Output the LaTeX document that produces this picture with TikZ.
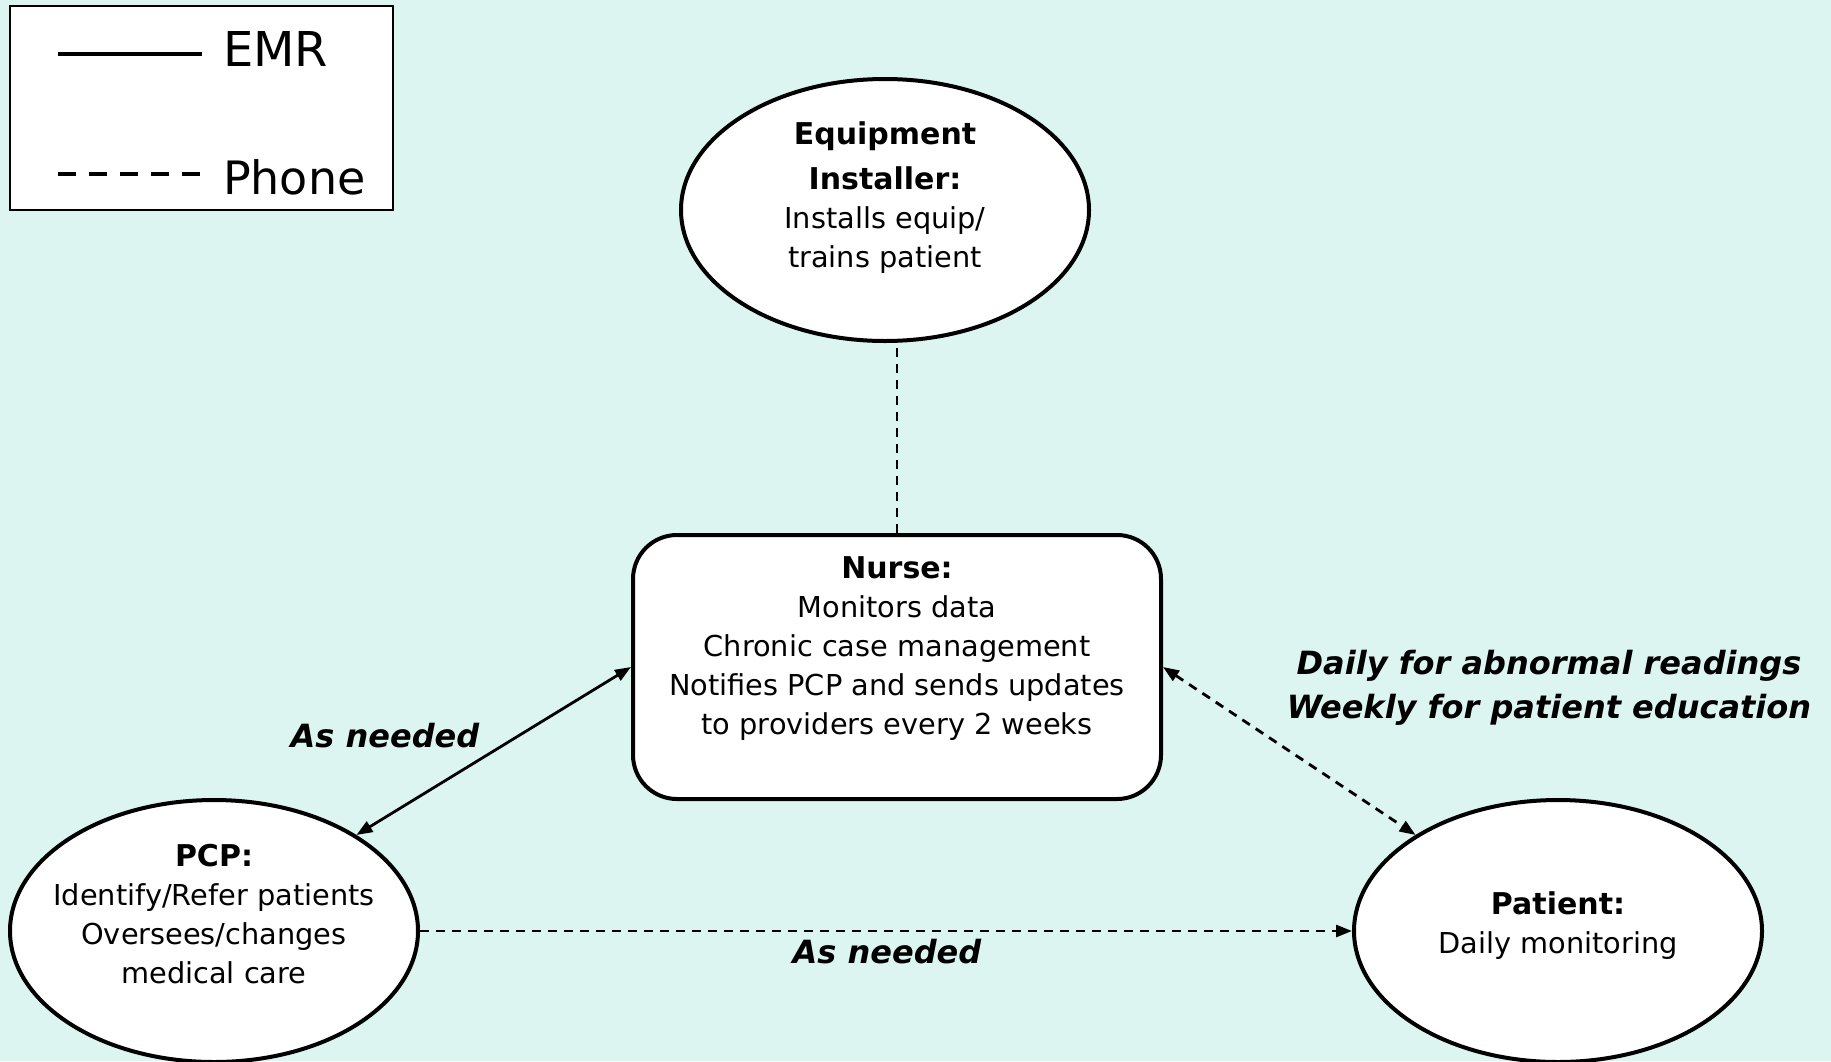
\documentclass[tikz,border=0pt]{standalone}
\usepackage{fontspec}
\setmainfont{DejaVu Sans}
\usepackage{tikz}
\usetikzlibrary{calc,shapes,arrows.meta,positioning}
\definecolor{bgcyan}{RGB}{221,245,241}
\newcommand{\roletitle}[1]{{\fontsize{15}{20}\selectfont\bfseries #1}}
\tikzstyle{actor}=[ellipse,draw,line width=2pt,fill=white,minimum width=204pt,minimum height=131pt]
\tikzstyle{nursebox}=[rectangle,rounded corners=22pt,draw,line width=2pt,fill=white,minimum width=264pt,minimum height=132pt]
\tikzstyle{body}=[align=center,font=\fontsize{14.4}{19.5}\selectfont]
\tikzstyle{tag}=[align=center,font=\fontsize{16}{22}\selectfont\bfseries\itshape]
\tikzstyle{phone}=[line width=1.4pt,dash pattern=on 4.5pt off 3.5pt]
\tikzstyle{emr}=[line width=1.4pt]

\begin{document}
\begin{tikzpicture}[x=0.5pt,y=-0.5pt,>={Triangle[length=8pt,width=6pt]}]
        \fill[bgcyan] (0,0) rectangle (1831,1061);
        \useasboundingbox (0,0) rectangle (1831,1061);
        % legend
        \draw[line width=1pt,fill=white] (10,6) rectangle (393,210);
        \node[anchor=west,font=\fontsize{24}{28}\selectfont] (emrkey) at (216,49) {EMR};
        \node[anchor=west,font=\fontsize{23}{28}\selectfont] (phonekey) at (216,177) {Phone};
        \draw[line width=2pt] (58,54) -- (202,54);
        \draw[line width=2pt,dash pattern=on 9pt off 6.5pt] (58,174) -- (202,174);
        % actors
        \node[actor] (equip) at (885,210) {};
        \node[body] (equiptext) at (885,198) {\roletitle{Equipment}\\[3pt] \roletitle{Installer:}\\ Installs equip/\\ trains patient};
        \node[nursebox] (nurse) at (897,667) {};
        \node[body] (nursetext) at (897,649) {\roletitle{Nurse:}\\ Monitors data\\ Chronic case management\\ Notifies PCP and sends updates\\ to providers every 2 weeks};
        \node[actor] (pcp) at (214,931) {};
        \node[body] (pcptext) at (214,914) {\roletitle{PCP:}\\ Identify/Refer patients\\ Oversees/changes\\ medical care};
        \node[actor] (patient) at (1558,931) {};
        \node[body] (patienttext) at (1558,926) {\roletitle{Patient:}\\ Daily monitoring};
        % links
        \draw[phone] (nurse.north) -- (nurse.north |- equip.south);
        \draw[emr,<->] (nurse.west) -- (pcp.34);
        \draw[phone,<->] (nurse.east) -- (patient.146);
        \draw[phone,->] (pcp.east) -- (patient.west);
        \node[tag] (leftneed) at (385,736) {As needed};
        \node[tag] (freq) at (1549,688) {Daily for abnormal readings\\ Weekly for patient education};
        \node[tag] (bottomneed) at (887,952) {As needed};
      \end{tikzpicture}
\end{document}
